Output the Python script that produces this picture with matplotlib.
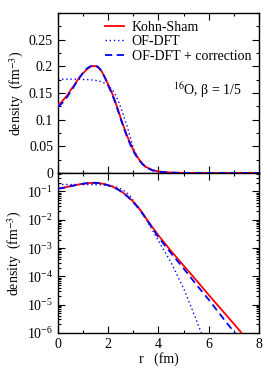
import matplotlib
matplotlib.use("Agg")
import matplotlib.pyplot as plt
from matplotlib.ticker import MultipleLocator, LogLocator, NullFormatter

plt.rcParams['font.family'] = ['Liberation Serif', 'DejaVu Serif']
plt.rcParams['mathtext.fontset'] = 'stix'

r = [0.0, 0.125, 0.25, 0.375, 0.5, 0.625, 0.75, 0.875, 1.0, 1.125, 1.25, 1.375,
     1.5, 1.625, 1.75, 1.875, 2.0, 2.125, 2.25, 2.375, 2.5, 2.625, 2.75, 2.875,
     3.0, 3.125, 3.25, 3.375, 3.5, 3.75, 4.0, 4.5, 5.0, 5.5, 6.0, 6.5, 7.0, 7.5, 8.0]

kohn_sham = [0.128, 0.132, 0.139, 0.146, 0.155, 0.163, 0.172, 0.180, 0.187, 0.193,
             0.198, 0.2005, 0.2005, 0.197, 0.190, 0.179, 0.166, 0.153, 0.138, 0.121,
             0.103, 0.086, 0.070, 0.056, 0.043, 0.033, 0.024, 0.017, 0.0115,
             5.6e-3, 2.8e-3, 7.9e-4, 2.4e-4, 7.4e-5, 2.2e-5, 6.8e-6, 2.1e-6, 6.3e-7, 1.9e-7]

of_dft = [0.176, 0.176, 0.176, 0.176, 0.176, 0.176, 0.176, 0.1758, 0.1755, 0.1752,
          0.175, 0.1743, 0.1735, 0.1724, 0.171, 0.168, 0.164, 0.158, 0.150, 0.138,
          0.123, 0.106, 0.088, 0.068, 0.047, 0.033, 0.023, 0.0155, 0.0105,
          4.5e-3, 1.8e-3, 3.1e-4, 3.8e-5, 3.0e-6, 2.0e-7, 1.0e-8, 3.0e-10, 5.0e-12, 5.0e-14]

of_dft_corr = [0.124, 0.129, 0.135, 0.143, 0.152, 0.161, 0.171, 0.180, 0.188, 0.195,
               0.199, 0.202, 0.202, 0.198, 0.190, 0.178, 0.164, 0.151, 0.136, 0.119,
               0.101, 0.084, 0.068, 0.054, 0.041, 0.031, 0.023, 0.016, 0.011,
               5.2e-3, 2.4e-3, 6.6e-4, 1.9e-4, 5.2e-5, 1.5e-5, 4.0e-6, 1.1e-6, 3.2e-7, 8.9e-8]

labels = ["Kohn-Sham", "OF-DFT", "OF-DFT + correction"]
lin_ticks = [0, 0.05, 0.1, 0.15, 0.2, 0.25]
lin_ticklabels = ["0", "0.05", "0.1", "0.15", "0.2", "0.25"]
x_ticks = [0, 2, 4, 6, 8]

fig = plt.figure(figsize=(2.77, 3.72), dpi=100)
ax1 = fig.add_axes([0.209, 0.535, 0.726, 0.430])
ax2 = fig.add_axes([0.209, 0.105, 0.726, 0.430])

fs = 10

def draw(ax):
    ax.plot(r, kohn_sham, color='#ff0000', lw=1.3, ls='-', label=labels[0], zorder=3)
    ax.plot(r, of_dft, color='#0000ff', lw=1.0, ls=(0, (1, 2)), label=labels[1], zorder=2)
    ax.plot(r, of_dft_corr, color='#0000ff', lw=1.3, ls=(0, (4, 2.5)), label=labels[2], zorder=4)

draw(ax1)
draw(ax2)

for ax in (ax1, ax2):
    ax.set_xlim(0, 8)
    ax.set_xticks(x_ticks)
    ax.xaxis.set_minor_locator(MultipleLocator(1))
    ax.tick_params(which='both', direction='in', top=True, right=True, labelsize=fs)
    ax.tick_params(which='major', length=5, width=0.8)
    ax.tick_params(which='minor', length=2.5, width=0.8)
    for s in ax.spines.values():
        s.set_linewidth(1.0)

ax1.set_ylim(0, 0.3)
ax1.set_yticks(lin_ticks)
ax1.set_yticklabels(lin_ticklabels)
ax1.yaxis.set_minor_locator(MultipleLocator(0.025))
ax1.tick_params(labelbottom=False)
ax1.set_ylabel("density  (fm$^{-3}$)", fontsize=fs, labelpad=2)

leg = ax1.legend(loc='upper right', frameon=False, fontsize=fs, handlelength=1.3,
                 handletextpad=0.6, borderaxespad=0.15, labelspacing=0.12)
ax1.text(0.57, 0.52, "$^{16}$O, β = 1/5", transform=ax1.transAxes, fontsize=fs,
         ha='left', va='center')

ax2.set_yscale('log')
ax2.set_ylim(1e-6, 0.45)
ax2.yaxis.set_major_locator(LogLocator(base=10, numticks=10))
ax2.yaxis.set_minor_locator(LogLocator(base=10, subs=[2, 3, 4, 5, 6, 7, 8, 9], numticks=20))
ax2.yaxis.set_minor_formatter(NullFormatter())
ax2.set_ylabel("density  (fm$^{-3}$)", fontsize=fs, labelpad=2)
ax2.set_xlabel("r   (fm)", fontsize=fs, labelpad=1)

fig.savefig("out.png", dpi=100)
